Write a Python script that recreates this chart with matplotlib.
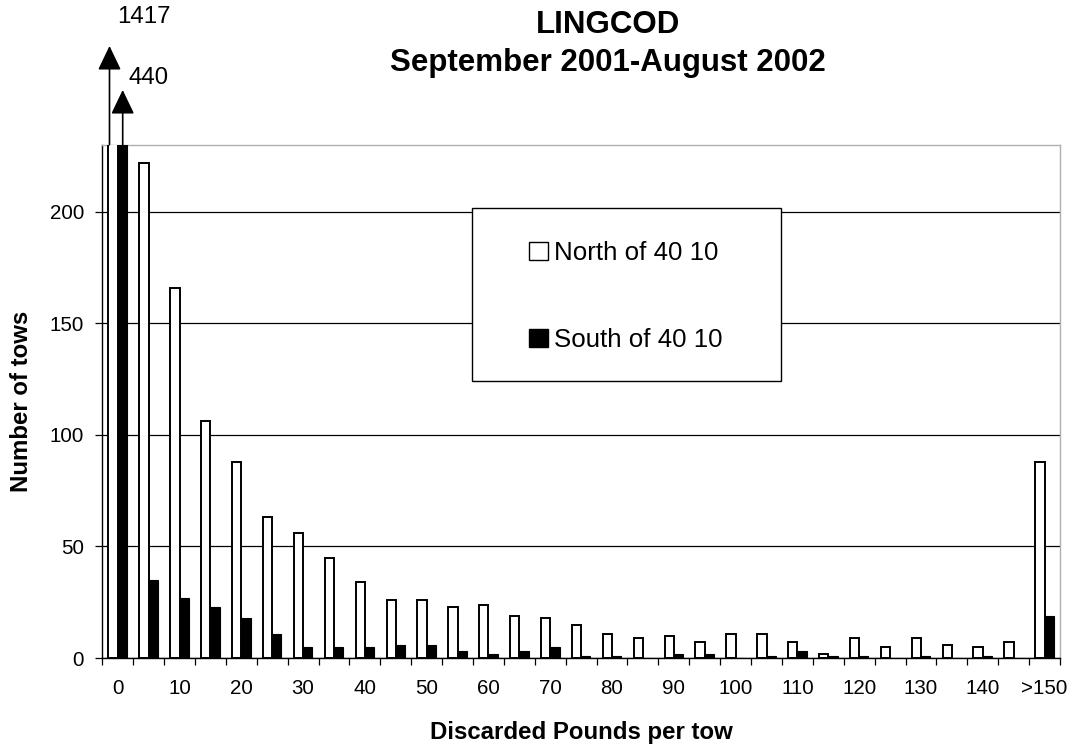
import matplotlib
matplotlib.use("Agg")
import matplotlib.pyplot as plt
import numpy as np
from matplotlib.patches import Rectangle, Patch

plt.rcParams['font.family'] = ['Liberation Sans', 'DejaVu Sans']

# ---- data ----
bins = [str(v) for v in range(0, 150, 5)] + ['>150']
tick_labels = [b if (i % 2 == 0 and i < 29) else '' for i, b in enumerate(bins)]
tick_labels[-1] = '>150'
north = [1417, 222, 166, 106, 88, 63, 56, 45, 34, 26, 26, 23, 24, 19, 18, 15, 11, 9,
         10, 7, 11, 11, 7, 2, 9, 5, 9, 6, 5, 7, 88]
south = [440, 35, 27, 23, 18, 11, 5, 5, 5, 6, 6, 3, 2, 3, 5, 1, 1, 0,
         2, 2, 0, 1, 3, 1, 1, 0, 1, 0, 1, 0, 19]
series_names = ['North of 40 10', 'South of 40 10']
off_scale_labels = ['1417', '440']
title_text = 'LINGCOD\nSeptember 2001-August 2002'
ymax = 230

W, H = 1073, 749
fig = plt.figure(figsize=(W / 100, H / 100), dpi=100)
ax = fig.add_axes([102.3 / W, (H - 658.1) / H, (1060 - 102.3) / W, (658.1 - 144.7) / H])

x = np.arange(len(bins))
bw = 0.30
b1 = ax.bar(x - bw / 2, north, bw, facecolor='white', edgecolor='black', linewidth=1.4, zorder=3)
b2 = ax.bar(x + bw / 2, south, bw, facecolor='black', edgecolor='black', linewidth=0.8, zorder=3)

ax.set_xlim(-0.5, len(bins) - 0.5)
ax.set_ylim(0, ymax)

# y axis
ax.set_yticks([0, 50, 100, 150, 200])
ax.yaxis.grid(True, color='black', linewidth=0.9, zorder=0)
ax.set_axisbelow(True)
ax.tick_params(axis='y', direction='out', length=5, width=0.9, pad=8, labelsize=14.8)

# x axis: ticks at boundaries, labels at centres
ax.set_xticks(np.arange(-0.5, len(bins), 1.0))
ax.set_xticklabels([])
ax.set_xticks(x, minor=True)
ax.set_xticklabels(tick_labels, minor=True)
ax.tick_params(axis='x', which='major', direction='out', length=5, width=0.9)
ax.tick_params(axis='x', which='minor', length=0, pad=15, labelsize=14.8)

for s in ['left', 'bottom']:
    ax.spines[s].set_color('black')
    ax.spines[s].set_linewidth(1.0)
for s in ['top', 'right']:
    ax.spines[s].set_color('#b0b0b0')
    ax.spines[s].set_linewidth(1.0)

ax.set_xlabel('Discarded Pounds per tow', fontsize=17.3, fontweight='bold', va='center')
ax.xaxis.set_label_coords(0.5, (658.1 - 733) / 513.4)
ax.set_ylabel('Number of tows', fontsize=17.3, fontweight='bold', va='center')
ax.yaxis.set_label_coords((22 - 102.3) / 957.7, 0.5)

# off-scale arrows
pxu = 30.894
ppy = 2.232
def dx(px):
    return (px - 117.75) / pxu
def dy(py):
    return (658.1 - py) / ppy

for xpos, tip in [(dx(109.5), dy(46)), (dx(122.7), dy(90))]:
    ax.annotate('', xy=(xpos, tip), xytext=(xpos, ymax), annotation_clip=False,
                arrowprops=dict(arrowstyle='-|>,head_length=1.5,head_width=0.72',
                                mutation_scale=10, color='black', lw=1.2,
                                shrinkA=0, shrinkB=0))
ax.text(dx(144), dy(17.5), off_scale_labels[0], fontsize=17.3, ha='center', va='center', clip_on=False)
ax.text(dx(149), dy(78), off_scale_labels[1], fontsize=17.3, ha='center', va='center', clip_on=False)

# title
fig.text(608 / W, 1 - 10 / H, title_text, fontsize=22.5, fontweight='bold',
         ha='center', va='top', multialignment='center', linespacing=1.36)

# legend frame + legend
frame = Rectangle((471.7 / W, (H - 381) / H), (780.7 - 471.7) / W, (381 - 207.5) / H,
                  transform=fig.transFigure, facecolor='white', edgecolor='black',
                  linewidth=1.0, zorder=6, clip_on=False)
ax.add_patch(frame)
handles = [Patch(facecolor='white', edgecolor='black', linewidth=1.0),
           Patch(facecolor='black', edgecolor='black', linewidth=1.0)]
leg = ax.legend(handles, series_names, loc='center left',
                bbox_to_anchor=(529.3 / W, (H - 296.5) / H), bbox_transform=fig.transFigure,
                frameon=False, fontsize=18.6, borderpad=0, borderaxespad=0,
                handlelength=0.72, handleheight=0.7, handletextpad=0.22, labelspacing=2.42)
leg.set_zorder(10)

fig.savefig('out.png', dpi=100)
